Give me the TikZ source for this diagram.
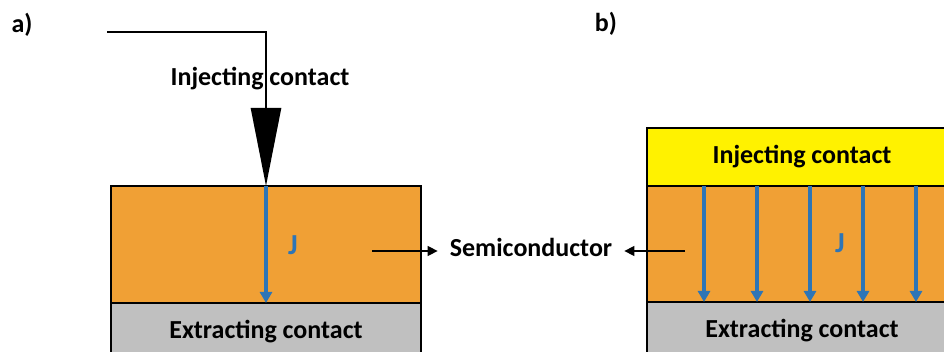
\documentclass[tikz,border=0pt]{standalone}
\usepackage{fontspec}
\setmainfont{Carlito}
\usetikzlibrary{positioning,arrows.meta}

\definecolor{semiorange}{RGB}{240,160,53}
\definecolor{contactgrey}{RGB}{192,192,192}
\definecolor{jblue}{RGB}{46,117,182}

\begin{document}
\begin{tikzpicture}[x=1pt, y=-1pt,
  layer/.style={draw=black, line width=2.4pt, minimum width=310pt, outer sep=0pt, inner sep=0pt,
    font=\fontsize{26}{30}\selectfont\bfseries},
  labeltext/.style={font=\fontsize{26}{30}\selectfont\bfseries, inner sep=0pt},
  jlabel/.style={font=\fontsize{29}{32}\selectfont\bfseries, text=jblue, inner sep=0pt},
  current/.style={draw=jblue, line width=4pt, -{Triangle[width=12pt,length=11pt]}},
  wire/.style={line width=2.6pt, -{Triangle[width=30pt,length=78pt]}},
  pointer/.style={line width=1.4pt, -{Triangle[width=10pt,length=10pt]}}]

\useasboundingbox (0,0) rectangle (944,352);

% Panel a) layers
\node[layer, fill=semiorange, minimum height=117pt] (semiA) at (266,244.5) {};
\node[layer, fill=contactgrey, minimum height=58pt, below=0pt of semiA] (extA) {Extracting contact};

% Panel b) layers
\node[layer, fill=semiorange, minimum height=116pt] (semiB) at (802,244) {};
\node[layer, fill=yellow, minimum height=58pt, above=0pt of semiB] (injB) {Injecting contact};
\node[layer, fill=contactgrey, minimum height=58pt, below=0pt of semiB] (extB) {Extracting contact};

% Panel labels
\node[labeltext] (tagA) at (22,25) {a)};
\node[labeltext] (tagB) at (606,24) {b)};

% Point contact wire
\coordinate (wireA) at (107,32);
\draw[wire] (wireA) -| (semiA.north);
\node[labeltext] (injA) at (260,79) {Injecting contact};

% Current density
\draw[current] (semiA.north) -- (semiA.south);
\node[jlabel] (jA) at (293,245) {J};
\foreach \d in {-98pt,-45pt,8pt,61pt,114pt}
  \draw[current] ([xshift=\d]semiB.north) -- ([xshift=\d]semiB.south);
\node[jlabel] (jB) at (840,243) {J};

% Semiconductor pointers
\node[labeltext, inner xsep=12pt] (semi) at (531,247) {Semiconductor};
\coordinate (pA) at (372,251);
\coordinate (pB) at (685,251);
\draw[pointer] (pA) -- (pA -| semi.west);
\draw[pointer] (pB) -- (pB -| semi.east);

\end{tikzpicture}
\end{document}
